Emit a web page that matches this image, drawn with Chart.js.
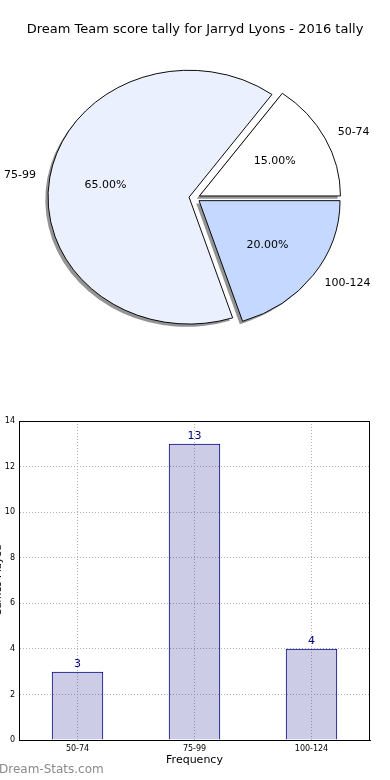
<!DOCTYPE html>
<html>
<head>
<meta charset="utf-8">
<script src="https://cdn.jsdelivr.net/npm/chart.js@4.4.1/dist/chart.umd.min.js"></script>
<style>
    html, body { margin: 0; padding: 0; background: #fff; width: 390px; height: 780px; overflow: hidden; }
    #pie { position: absolute; left: 0; top: 0; }
    #bar { position: absolute; left: 0; top: 380px; }
</style>
</head>
<body>
<canvas id="pie" width="390" height="380"></canvas>
<canvas id="bar" width="390" height="400"></canvas>
<script>
const chartTitle = 'Dream Team score tally for Jarryd Lyons - 2016 tally';
const categories = ['50-74', '75-99', '100-124'];
const tallies = [3, 13, 4];
const yTicks = [0, 2, 4, 6, 8, 10, 12, 14];

Chart.defaults.font.family = "'DejaVu Sans', sans-serif";
Chart.defaults.color = '#000';

// pie is drawn clockwise from the right, so reverse the order to get matplotlib's layout
const pieLabels = categories.slice().reverse();
const pieValues = tallies.slice().reverse();
const total = tallies.reduce((a, b) => a + b, 0);

const pieExtras = {
    id: 'pieExtras',
    beforeDatasetsDraw(chart, args, opts) {
        const ctx = chart.ctx;
        const arcs = chart.getDatasetMeta(0).data;
        const cx = arcs[0].x, cy = arcs[0].y;
        const sq = opts.squash;
        const shift = (a, i) => {
            const mid = (a.startAngle + a.endAngle) / 2;
            return [Math.cos(mid) * opts.explode[i], Math.sin(mid) * opts.explode[i]];
        };
        ctx.save();
        ctx.translate(cx, cy);
        ctx.scale(1, sq);
        ctx.translate(-cx, -cy);
        // shadows first, under every wedge
        arcs.forEach((a, i) => {
            const [dx, dy] = shift(a, i);
            const sx = a.x + dx - 2.8;
            const sy = a.y + dy + 2.8 / sq;
            ctx.beginPath();
            ctx.moveTo(sx, sy);
            ctx.arc(sx, sy, a.outerRadius, a.startAngle, a.endAngle);
            ctx.closePath();
            ctx.fillStyle = 'rgba(0,0,0,0.42)';
            ctx.fill();
        });
        arcs.forEach((a, i) => {
            const [dx, dy] = shift(a, i);
            ctx.save();
            ctx.translate(dx, dy);
            a.draw(ctx, chart.chartArea);
            ctx.restore();
        });
        ctx.restore();

        ctx.save();
        ctx.fillStyle = '#000';
        ctx.font = "11px 'DejaVu Sans'";
        ctx.textBaseline = 'middle';
        arcs.forEach((a, i) => {
            const mid = (a.startAngle + a.endAngle) / 2;
            const at = k => {
                const d = opts.explode[i] + k * a.outerRadius;
                return [a.x + Math.cos(mid) * d, a.y + Math.sin(mid) * d * sq];
            };
            const [lx, ly] = at(1.1);
            ctx.textAlign = Math.cos(mid) > 0 ? 'left' : 'right';
            ctx.fillText(pieLabels[i], lx, ly);
            const [px, py] = at(0.6);
            ctx.textAlign = 'center';
            ctx.fillText((pieValues[i] / total * 100).toFixed(2) + '%', px, py);
        });
        ctx.font = "13px 'DejaVu Sans'";
        ctx.textAlign = 'center';
        ctx.fillText(chartTitle, 195, 30);
        ctx.restore();
        return false;
    }
};

new Chart(document.getElementById('pie'), {
    type: 'pie',
    data: {
        labels: pieLabels,
        datasets: [{
            data: pieValues,
            backgroundColor: ['#c5d8ff', '#eaf0fd', '#ffffff'],
            borderColor: '#000',
            borderWidth: 1,
            hoverOffset: 0
        }]
    },
    options: {
        responsive: false,
        animation: false,
        events: [],
        rotation: 90,
        layout: { padding: { left: 53.5, right: 53.5, top: 56.5, bottom: 40.5 } },
        plugins: {
            legend: { display: false },
            tooltip: { enabled: false },
            pieExtras: { squash: 0.9, explode: [5, 6, 5] }
        }
    },
    plugins: [pieExtras]
});

const barExtras = {
    id: 'barExtras',
    afterDatasetsDraw(chart) {
        const ctx = chart.ctx;
        ctx.save();
        ctx.fillStyle = '#000080';
        ctx.font = "11px 'DejaVu Sans'";
        ctx.textAlign = 'center';
        ctx.textBaseline = 'bottom';
        chart.getDatasetMeta(0).data.forEach((bar, i) => {
            ctx.fillText(String(tallies[i]), bar.x, bar.y - 2);
        });
        ctx.restore();
    },
    afterDraw(chart) {
        const ctx = chart.ctx;
        const a = chart.chartArea;
        ctx.save();
        ctx.strokeStyle = '#000';
        ctx.lineWidth = 1;
        ctx.strokeRect(Math.round(a.left) + 0.5, Math.round(a.top) + 0.5,
            Math.round(a.right - a.left) - 1, Math.round(a.bottom - a.top));
        ctx.fillStyle = '#8a8a8a';
        ctx.font = "12px 'DejaVu Sans'";
        ctx.textAlign = 'left';
        ctx.textBaseline = 'middle';
        ctx.fillText('Dream-Stats.com', -1, 390);
        ctx.restore();
    }
};

new Chart(document.getElementById('bar'), {
    type: 'bar',
    data: {
        labels: categories,
        datasets: [{
            data: tallies,
            backgroundColor: 'rgba(0,0,128,0.2)',
            borderColor: '#000080',
            borderWidth: 1,
            barPercentage: 0.44,
            categoryPercentage: 1
        }]
    },
    options: {
        responsive: false,
        animation: false,
        events: [],
        layout: { padding: { top: 41, right: 20, left: 0, bottom: 0 } },
        plugins: { legend: { display: false }, tooltip: { enabled: false } },
        scales: {
            x: {
                offset: true,
                grid: { offset: false, color: '#b0b0b0', drawTicks: false },
                border: { color: '#000', dash: [1, 2] },
                ticks: { font: { size: 8 }, color: '#000', padding: 4, maxRotation: 0 },
                title: { display: true, text: 'Frequency', font: { size: 11 }, color: '#000', padding: { top: 0, bottom: 13 } },
                afterFit(s) { s.height = 40; }
            },
            y: {
                min: 0,
                max: 14,
                grid: { color: '#b0b0b0', drawTicks: false },
                border: { color: '#000', dash: [1, 2] },
                ticks: { font: { size: 8 }, color: '#000', padding: 4 },
                afterBuildTicks(s) { s.ticks = yTicks.map(v => ({ value: v })); },
                title: { display: true, text: 'Games Played', font: { size: 10 }, color: '#000', padding: { top: -8, bottom: 0 } },
                afterFit(s) { s.width = 19; }
            }
        }
    },
    plugins: [barExtras]
});
</script>
</body>
</html>
